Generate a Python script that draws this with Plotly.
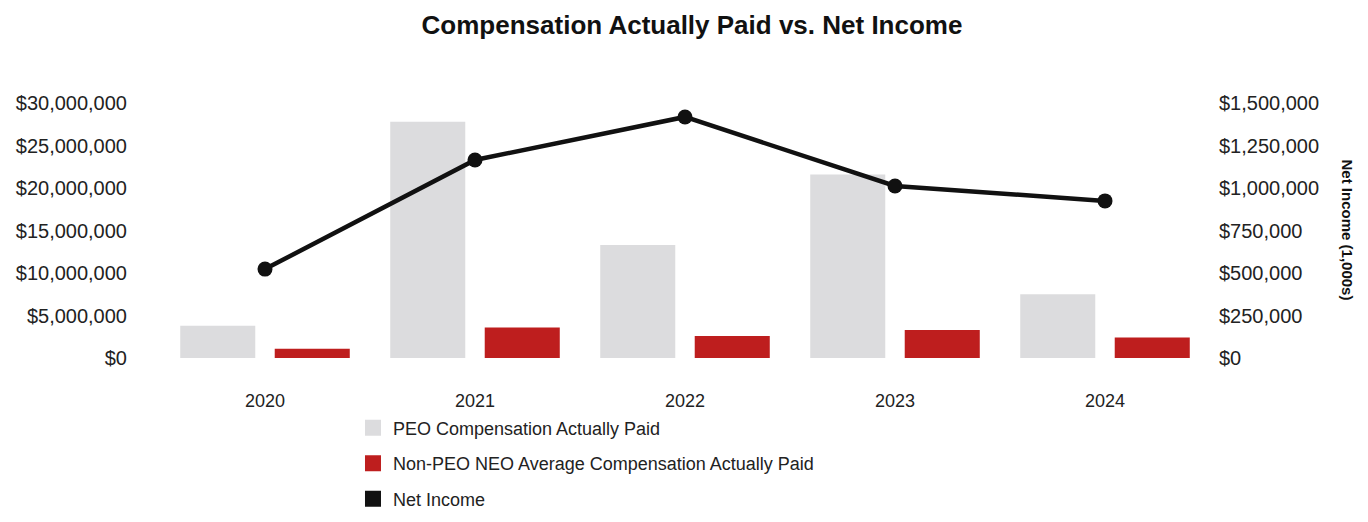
import plotly.graph_objects as go

years = ["2020", "2021", "2022", "2023", "2024"]
peo_cap = [3800000, 27800000, 13300000, 21600000, 7500000]
neo_cap = [1100000, 3600000, 2600000, 3300000, 2400000]
net_income = [523000, 1165000, 1418000, 1012000, 924000]

left_ticks = [0, 5000000, 10000000, 15000000, 20000000, 25000000, 30000000]
left_labels = ["$0", "$5,000,000", "$10,000,000", "$15,000,000", "$20,000,000", "$25,000,000", "$30,000,000"]
right_ticks = [0, 250000, 500000, 750000, 1000000, 1250000, 1500000]
right_labels = ["$0", "$250,000", "$500,000", "$750,000", "$1,000,000", "$1,250,000", "$1,500,000"]

series_names = ["PEO Compensation Actually Paid",
                "Non-PEO NEO Average Compensation Actually Paid",
                "Net Income"]

GRAY = "#DCDCDE"
RED = "#BE1E1E"
BLACK = "#111111"
FONT = "Liberation Sans, Arial, sans-serif"

fig = go.Figure()
fig.add_trace(go.Bar(x=years, y=peo_cap, name=series_names[0], showlegend=False,
                     marker=dict(color=GRAY, line=dict(width=0))))
fig.add_trace(go.Bar(x=years, y=neo_cap, name=series_names[1], showlegend=False,
                     marker=dict(color=RED, line=dict(width=0))))
fig.add_trace(go.Scatter(x=years, y=net_income, name=series_names[2], yaxis="y2",
                         mode="lines+markers", line=dict(color=BLACK, width=4.5),
                         marker=dict(color=BLACK, size=15), showlegend=False, cliponaxis=False))

# legend entries drawn as square swatches
for nm, col, grp in zip(series_names, [GRAY, RED, BLACK], ["a", "b", "c"]):
    fig.add_trace(go.Scatter(x=[None], y=[None], mode="markers", name=nm, legendgroup=grp,
                             marker=dict(symbol="square", size=16, color=col),
                             showlegend=True))

fig.update_layout(
    width=1368, height=522,
    margin=dict(l=152, r=166, t=95, b=172),
    paper_bgcolor="white", plot_bgcolor="white",
    font=dict(family=FONT, color="#222222"),
    title=dict(text="<b>Compensation Actually Paid vs. Net Income</b>", x=0.5, xanchor="center",
               y=0.9674, yanchor="middle", font=dict(size=26, color="#111111", family=FONT)),
    barmode="group", bargap=0.1, bargroupgap=0.206,
    showlegend=True,
    legend=dict(x=0.1838, xanchor="left",
                y=-0.626, yanchor="bottom", orientation="v", itemsizing="trace",
                font=dict(size=18, color="#222222", family=FONT),
                tracegroupgap=9, bgcolor="rgba(0,0,0,0)"),
    xaxis=dict(type="category", range=[-0.5, 4.5], showline=False, showgrid=False, ticks="",
               tickfont=dict(size=18), ticklabelstandoff=30, zeroline=False, automargin=False),
    yaxis=dict(range=[0, 30000000], tickvals=left_ticks, ticktext=left_labels, showgrid=False,
               showline=False, zeroline=False, ticks="", tickfont=dict(size=20),
               ticklabelstandoff=32, automargin=False),
    yaxis2=dict(range=[0, 1500000], tickvals=right_ticks, ticktext=right_labels, overlaying="y",
                side="right", showgrid=False, showline=False, zeroline=False, ticks="",
                tickfont=dict(size=20), ticklabelstandoff=8, automargin=False),
    annotations=[dict(text="<b>Net Income (1,000s)</b>", xref="paper", yref="paper",
                      x=1.1314, y=0.5, xanchor="center", yanchor="middle", textangle=90,
                      showarrow=False, font=dict(size=15, color="#111111", family=FONT))],
)

fig.write_html("out.html")
